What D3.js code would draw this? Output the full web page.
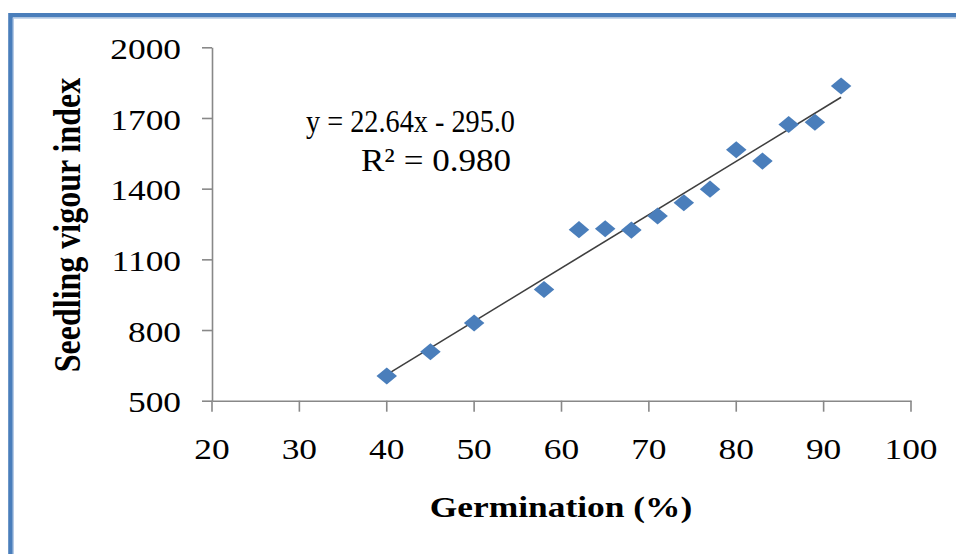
<!DOCTYPE html>
<html>
<head>
<meta charset="utf-8">
<script src="https://cdn.jsdelivr.net/npm/d3@7"></script>
<style>
  html, body { margin: 0; padding: 0; background: #fff; }
  svg { display: block; }
  text { font-family: "Liberation Serif", "Times New Roman", serif; fill: #000; }
</style>
</head>
<body>
<svg id="chart" width="956" height="554"></svg>
<script>
// ---- data ----
const germination = [40, 45, 50, 58, 62, 65, 68, 71, 74, 77, 80, 83, 86, 89, 92];
const vigourIndex = [605, 708, 830, 972, 1226, 1230, 1224, 1284, 1340, 1398, 1565, 1517, 1672, 1682, 1836];
const xTicks = [20, 30, 40, 50, 60, 70, 80, 90, 100];
const yTicks = [500, 800, 1100, 1400, 1700, 2000];
const trendSlope = 22.64;
const trendIntercept = -295.0;
const equationText = "y = 22.64x - 295.0";
const r2Text = "R\u00B2 = 0.980";
const xTitle = "Germination (%)";
const yTitle = "Seedling vigour index";

// ---- layout ----
const W = 956, H = 554;
const plot = { left: 212, right: 911, top: 47.3, bottom: 400.7 };
const SX = 1.2; // horizontal stretch of glyphs seen in the reference

const svg = d3.select("#chart");

// frame border
svg.append("path")
  .attr("d", `M10.5,${H + 10} L10.5,15.3 L${W + 10},15.3`)
  .attr("fill", "none").attr("stroke", "#4a7ebb").attr("stroke-width", 4.6);
svg.append("path")
  .attr("d", `M13.4,${H + 10} L13.4,18.1 L${W + 10},18.1`)
  .attr("fill", "none").attr("stroke", "#b7cbe6").attr("stroke-width", 1.2);

const x = d3.scaleLinear().domain([20, 100]).range([plot.left, plot.right]);
const y = d3.scaleLinear().domain([500, 2000]).range([plot.bottom, plot.top]);

const axisColor = "#888888";

// y axis
const gy = svg.append("g")
  .attr("transform", `translate(${plot.left},0)`)
  .call(d3.axisLeft(y).tickValues(yTicks).tickSize(10).tickSizeOuter(0).tickPadding(15.8).tickFormat(d3.format("d")));
gy.select(".domain").attr("stroke", axisColor).attr("stroke-width", 1.6);
gy.selectAll(".tick line").attr("stroke", axisColor).attr("stroke-width", 1.6);
gy.selectAll(".tick text")
  .attr("font-size", 29.5)
  .attr("font-family", "Liberation Serif")
  .attr("dy", "0.38em")
  .attr("transform", `scale(${SX},1)`);

// x axis
const gx = svg.append("g")
  .attr("transform", `translate(0,${plot.bottom})`)
  .call(d3.axisBottom(x).tickValues(xTicks).tickSize(11).tickSizeOuter(0).tickPadding(26).tickFormat(d3.format("d")));
gx.select(".domain").attr("stroke", axisColor).attr("stroke-width", 1.6);
gx.selectAll(".tick line").attr("stroke", axisColor).attr("stroke-width", 1.6);
gx.selectAll(".tick text")
  .attr("font-size", 29.5)
  .attr("font-family", "Liberation Serif")
  .attr("transform", `scale(${SX},1)`);
// keep each x label centred on its tick after the horizontal stretch
gx.selectAll(".tick").each(function(d) {
  const g = d3.select(this);
  g.attr("transform", null);
  g.select("line").attr("x1", x(d)).attr("x2", x(d));
  g.select("text").attr("x", x(d) / SX);
});

// trend line
const xMin = d3.min(germination), xMax = d3.max(germination);
svg.append("line")
  .attr("x1", x(xMin)).attr("y1", y(trendSlope * xMin + trendIntercept))
  .attr("x2", x(xMax)).attr("y2", y(trendSlope * xMax + trendIntercept))
  .attr("stroke", "#3f3f3f").attr("stroke-width", 1.6);

// diamonds
const diamond = d3.symbol().type(d3.symbolSquare).size(146);
svg.append("g").selectAll("path")
  .data(germination.map((g, i) => [g, vigourIndex[i]]))
  .join("path")
  .attr("d", diamond)
  .attr("transform", d => `translate(${x(d[0])},${y(d[1])}) scale(${SX},1) rotate(45)`)
  .attr("fill", "#4a7ebb");

// equation
svg.append("text")
  .attr("x", 306).attr("y", 132)
  .attr("font-size", 31.5)
  .attr("textLength", 209).attr("lengthAdjust", "spacingAndGlyphs")
  .text(equationText);
svg.append("text")
  .attr("x", 361).attr("y", 171)
  .attr("font-size", 31.5)
  .attr("textLength", 150).attr("lengthAdjust", "spacingAndGlyphs")
  .text(r2Text);

// axis titles
svg.append("text")
  .attr("transform", `translate(80,225) scale(${SX},1) rotate(-90)`)
  .attr("text-anchor", "middle")
  .attr("font-size", 32)
  .attr("font-weight", "bold")
  .text(yTitle);

svg.append("text")
  .attr("transform", `translate(561,517) scale(${SX},1)`)
  .attr("text-anchor", "middle")
  .attr("font-size", 29.5)
  .attr("font-weight", "bold")
  .text(xTitle);
</script>
</body>
</html>
